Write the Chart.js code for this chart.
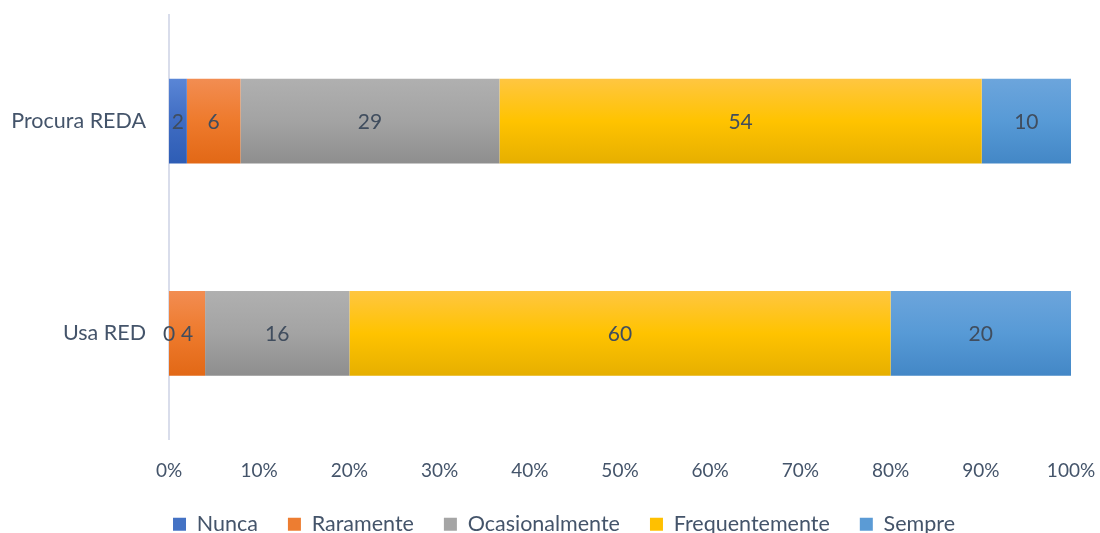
<!DOCTYPE html>
<html>
<head>
<meta charset="utf-8">
<script src="https://cdn.jsdelivr.net/npm/chart.js@4/dist/chart.umd.min.js"></script>
<style>
html,body{margin:0;padding:0;background:#fff;overflow:hidden;}
#wrap{width:1100px;height:545px;position:relative;}
</style>
</head>
<body>
<div id="wrap"><canvas id="c"></canvas></div>
<script>
const categories = ['Procura REDA', 'Usa RED'];
const seriesNames = ['Nunca', 'Raramente', 'Ocasionalmente', 'Frequentemente', 'Sempre'];
const nunca = [2, 0];
const raramente = [6, 4];
const ocasionalmente = [29, 16];
const frequentemente = [54, 60];
const sempre = [10, 20];
const xTickLabels = ['0%','10%','20%','30%','40%','50%','60%','70%','80%','90%','100%'];

const baseColors = ['#4472C4', '#ED7D31', '#A5A5A5', '#FFC000', '#5B9BD5'];
const gradStops = [
  ['#5A86D6', '#3F6CC2', '#2E5DB5'],
  ['#F28D52', '#EE7A2C', '#E26816'],
  ['#B0B0B0', '#A3A3A3', '#8E8E8E'],
  ['#FFC641', '#FFC300', '#E6AF00'],
  ['#6CA5DC', '#579AD6', '#4387C6']
];

const allSeries = [nunca, raramente, ocasionalmente, frequentemente, sempre];
const totals = categories.map((_, i) => allSeries.reduce((s, a) => s + a[i], 0));
const FONT = 'Lato';
const TXT = '#44546A';
const BAR_PCT = 0.4;
const PAD_LEFT = 57;

function gradFor(k) {
  return (ctx) => {
    const chart = ctx.chart;
    const ys = chart.scales && chart.scales.y;
    if (!chart.chartArea || !ys || ctx.dataIndex === undefined) return baseColors[k];
    const band = ys.height / categories.length;
    const cy = ys.getPixelForValue(ctx.dataIndex);
    const half = band * BAR_PCT / 2;
    const g = chart.ctx.createLinearGradient(0, cy - half, 0, cy + half);
    g.addColorStop(0, gradStops[k][0]);
    g.addColorStop(0.5, gradStops[k][1]);
    g.addColorStop(1, gradStops[k][2]);
    return g;
  };
}

const datasets = seriesNames.map((name, k) => ({
  label: name,
  data: allSeries[k].map((v, i) => v / totals[i] * 100),
  raw: allSeries[k],
  backgroundColor: gradFor(k),
  borderWidth: 0
}));

const labelPlugin = {
  id: 'vlabels',
  afterDatasetsDraw(chart) {
    const ctx = chart.ctx;
    ctx.save();
    ctx.font = '21px ' + FONT;
    ctx.fillStyle = '#404D5E';
    ctx.textAlign = 'center';
    ctx.textBaseline = 'middle';
    chart.data.datasets.forEach((ds, k) => {
      const meta = chart.getDatasetMeta(k);
      meta.data.forEach((el, i) => {
        const cx = (el.x + el.base) / 2;
        ctx.fillText(String(ds.raw[i]), cx, el.y + 1);
      });
    });
    // category labels, placed through the y scale
    const ys = chart.scales.y;
    ctx.font = '21.5px ' + FONT;
    ctx.fillStyle = TXT;
    ctx.textAlign = 'right';
    chart.data.labels.forEach((lab, i) => {
      ctx.fillText(lab, ys.right - 23, ys.getPixelForValue(i));
    });
    ctx.restore();
  }
};

new Chart(document.getElementById('c'), {
  type: 'bar',
  data: { labels: categories, datasets },
  options: {
    indexAxis: 'y',
    responsive: true,
    maintainAspectRatio: false,
    animation: false,
    layout: { padding: { top: 15, right: 29, left: PAD_LEFT, bottom: 0 } },
    datasets: { bar: { categoryPercentage: 1, barPercentage: BAR_PCT } },
    scales: {
      x: {
        stacked: true, min: 0, max: 100,
        grid: { display: false, drawTicks: false },
        border: { display: false },
        ticks: {
          stepSize: 10, padding: 20, color: TXT, maxRotation: 0,
          font: { family: FONT, size: 19 },
          callback: (v, i) => xTickLabels[i]
        },
        afterFit(s) { s.height = 44; s.paddingLeft = 0; s.paddingRight = 0; }
      },
      y: {
        stacked: true,
        grid: { display: false, drawTicks: false },
        border: { display: true, color: '#D9DDEB', width: 2 },
        ticks: { display: false },
        afterFit(s) { s.width = 169 - PAD_LEFT; s.paddingTop = 0; s.paddingBottom = 0; }
      }
    },
    plugins: {
      legend: {
        position: 'bottom',
        labels: {
          boxWidth: 13, boxHeight: 13, padding: 30,
          color: TXT, font: { family: FONT, size: 21.5 },
          generateLabels(chart) {
            return seriesNames.map((n, k) => ({
              text: n, fillStyle: baseColors[k], strokeStyle: baseColors[k],
              lineWidth: 0, datasetIndex: k, hidden: false, fontColor: TXT
            }));
          }
        }
      },
      tooltip: { enabled: false }
    }
  },
  plugins: [labelPlugin]
});
</script>
</body>
</html>
